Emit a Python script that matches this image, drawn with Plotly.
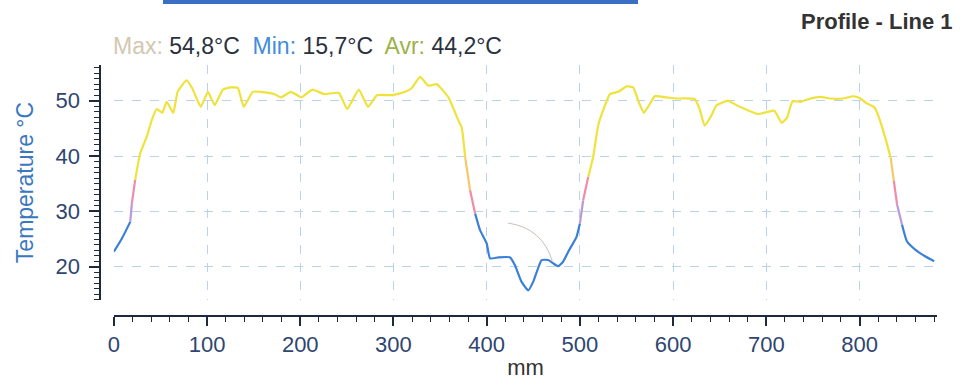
import plotly.graph_objects as go

# ---------------- data ----------------
position_mm = [0, 8.7, 17.6, 19.4, 22.9, 28.3, 35.4, 40.7, 46, 52, 56.7, 63.8, 68.4, 78, 84,
               93.3, 101, 108.2, 117, 125.3, 133, 139.4, 149, 158, 172, 179.3, 190, 201.3,
               213, 225.5, 241.5, 250.3, 262.8, 272.7, 282.3, 299, 312.6, 319.6, 328.6, 337.4,
               346.3, 359, 369.7, 373.2, 376.9, 382.2, 387.6, 392.9, 400, 403.6, 412.5, 424.8,
               430.2, 437.3, 444.6, 450, 458.9, 466, 471.4, 476.7, 482, 487.5, 496.4, 500,
               503.5, 508.9, 514.2, 519.6, 525, 532.2, 541.2, 550, 557.2, 562.6, 568.6, 575,
               580.3, 592.8, 603.5, 623.1, 628.4, 633.8, 641, 646.3, 658.8, 667.7, 678.4,
               690.9, 699.8, 708.7, 716.5, 722.1, 728.1, 736.8, 747.4, 757.9, 768.4, 782.4,
               793, 800, 807, 815.8, 821, 828.1, 833.4, 836.8, 840.3, 845.6, 850.8, 859.7,
               870.2, 880]
temperature_c = [22.7, 25.1, 28.1, 31.5, 35.7, 40.5, 43.5, 46.5, 48.5, 47.8, 49.8, 47.8, 51.6,
                 53.7, 52.3, 48.9, 51.6, 49.2, 52.0, 52.4, 52.3, 48.9, 51.6, 51.6, 51.2, 50.6,
                 51.6, 50.6, 52.0, 51.2, 51.4, 48.5, 52.0, 48.9, 51.0, 51.0, 51.6, 52.3, 54.3,
                 52.7, 53.0, 50.6, 46.4, 45.2, 39.8, 33.8, 29.6, 26.6, 24.2, 21.5, 21.7, 21.7,
                 20.3, 17.3, 15.7, 17.3, 21.2, 21.2, 20.6, 20.1, 20.9, 22.7, 25.4, 27.8, 32.0,
                 36.2, 39.8, 45.5, 48.3, 51.2, 51.6, 52.6, 52.4, 50.0, 47.8, 49.4, 50.8, 50.6,
                 50.4, 50.3, 48.5, 45.5, 47.3, 49.1, 50.0, 49.2, 48.4, 47.6, 47.9, 48.2, 46.0,
                 46.9, 49.9, 49.8, 50.4, 50.7, 50.4, 50.4, 50.8, 50.5, 49.6, 48.8, 46.9, 43.0,
                 39.7, 35.5, 31.2, 27.6, 24.6, 23.1, 21.9, 21.0]

x_ticks = [0, 100, 200, 300, 400, 500, 600, 700, 800]
y_ticks = [20, 30, 40, 50]

chart_title = "Profile - Line 1"
stat_max = "54,8°C"
stat_min = "15,7°C"
stat_avr = "44,2°C"

# ---------------- style ----------------
band_limits = [29, 31, 35, 38]
band_colors = ["#3a80d8", "#b99ad6", "#f08ca8", "#f5c96a", "#efe23a"]
W, H = 962, 381
FONT = "Liberation Sans, Arial, sans-serif"
TICK_COLOR = "#2e4670"
AXIS_COLOR = "#1e2a3c"


def band_of(t):
    for i, lim in enumerate(band_limits):
        if t < lim:
            return i
    return len(band_limits)


# group consecutive segments by colour band of their midpoint
runs = []
for i in range(len(position_mm) - 1):
    b = band_of((temperature_c[i] + temperature_c[i + 1]) / 2)
    if runs and runs[-1][0] == b and runs[-1][2] == i:
        runs[-1][2] = i + 1
    else:
        runs.append([b, i, i + 1])

fig = go.Figure()
for b, i0, i1 in runs:
    fig.add_trace(go.Scatter(
        x=position_mm[i0:i1 + 1], y=temperature_c[i0:i1 + 1],
        mode="lines", line=dict(color=band_colors[b], width=2.2, shape="spline", smoothing=0.4),
        hoverinfo="x+y", showlegend=False))

px_left, px_right, px_top, px_bottom = 108.5, 937, 65, 300
x_range = [0, (px_right - px_left) / 0.938]
y_range = [20 - (px_bottom - 266.7) / 5.533, 50 + (100.7 - px_top) / 5.533]

grid = dict(showgrid=True, gridcolor="#b9d3ec", griddash="dash", gridwidth=1)

fig.update_layout(
    width=W, height=H,
    margin=dict(l=0, r=0, t=0, b=0),
    paper_bgcolor="white", plot_bgcolor="white",
    font=dict(family=FONT, color=TICK_COLOR),
    xaxis=dict(
        domain=[px_left / W, px_right / W], range=x_range,
        anchor="free", position=1 - 316 / H,
        showline=True, linecolor=AXIS_COLOR, linewidth=2,
        ticks="outside", ticklen=9, tickwidth=1.5, tickcolor=AXIS_COLOR,
        tickvals=x_ticks, tickfont=dict(size=22, color=TICK_COLOR), ticklabelstandoff=0,
        minor=dict(dtick=20, ticklen=5, tickwidth=1.2, tickcolor=AXIS_COLOR, ticks="outside", showgrid=False),
        title=dict(text="mm", font=dict(size=22, color="#333333"), standoff=2),
        zeroline=False, **grid),
    yaxis=dict(
        domain=[1 - px_bottom / H, 1 - px_top / H], range=y_range,
        anchor="free", position=95 / W,
        showline=True, linecolor=AXIS_COLOR, linewidth=2,
        ticks="outside", ticklen=10, tickwidth=1.5, tickcolor=AXIS_COLOR,
        tickvals=y_ticks, tickfont=dict(size=22, color=TICK_COLOR), ticklabelstandoff=5,
        minor=dict(dtick=1, ticklen=5, tickwidth=1.2, tickcolor=AXIS_COLOR, ticks="outside", showgrid=False),
        title=dict(text="Temperature °C", font=dict(size=23, color="#3a78c0"), standoff=14),
        zeroline=False, **grid),
)

fig.add_annotation(
    text=f"<b>{chart_title}</b>", xref="paper", yref="paper",
    x=955 / W, y=1 - 22 / H, xanchor="right", yanchor="middle", showarrow=False,
    font=dict(size=22, color="#333333", family=FONT))

fig.add_annotation(
    text=(f"<span style='color:#d2c8b2'>Max:</span> {stat_max}  "
          f"<span style='color:#3f8ddc'>Min:</span> {stat_min}  "
          f"<span style='color:#9cb24a'>Avr:</span> {stat_avr}"),
    xref="paper", yref="paper", x=106 / W, y=1 - 46 / H,
    xanchor="left", yanchor="middle", showarrow=False,
    font=dict(size=23, color="#2a3140", family=FONT))

# blue header strip from the scanned page
fig.add_shape(type="rect", xref="paper", yref="paper",
              x0=158 / W, x1=636 / W, y0=1 - 4 / H, y1=1,
              fillcolor="#3b6fc4", line=dict(width=0), layer="above")
# faint pencil-like arc present on the scan
fig.add_shape(type="path", xref="paper", yref="paper",
              path=f"M {505 / W},{1 - 223 / H} Q {540 / W},{1 - 228 / H} {550 / W},{1 - 262 / H}",
              line=dict(color="#c9c0b8", width=1))

fig.write_html("out.html")
